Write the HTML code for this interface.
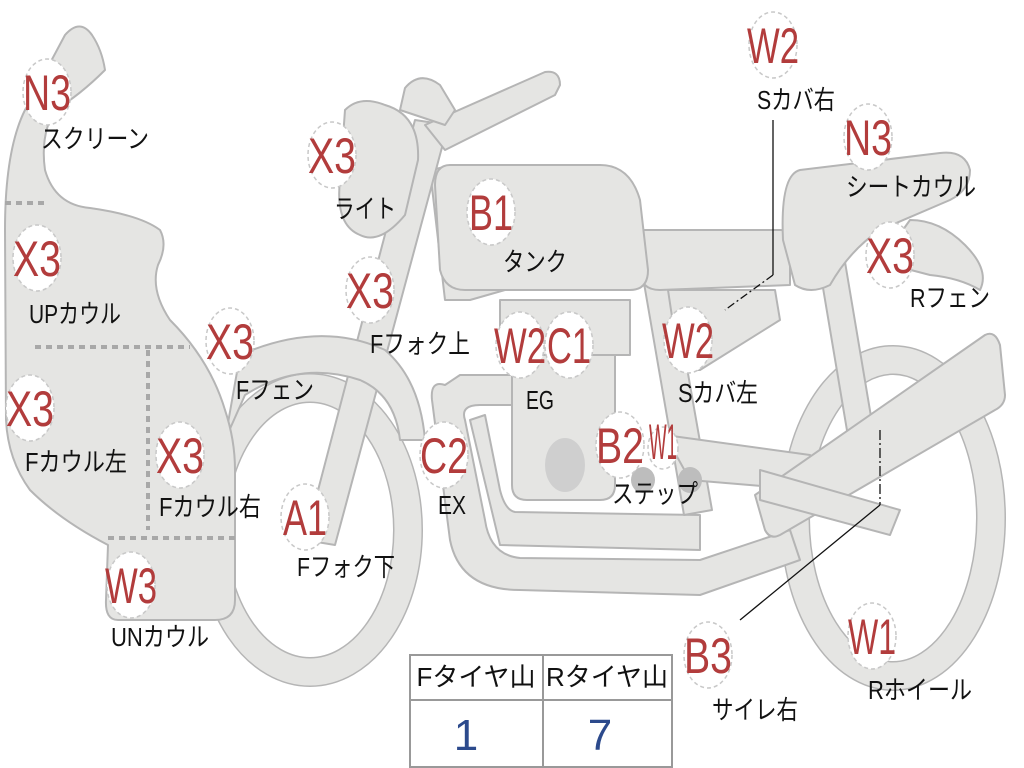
<!DOCTYPE html>
<html><head><meta charset="utf-8"><style>
html,body{margin:0;padding:0;background:#fff;width:1024px;height:768px;overflow:hidden}
svg{display:block}
.s{fill:#e5e5e3;stroke:#b5b5b5;stroke-width:2;stroke-linejoin:round}
.c{fill:#fff;stroke:#c8c8c8;stroke-width:1.5;stroke-dasharray:4 3}
.r{fill:#b23c3c;font-family:"Liberation Sans",sans-serif;font-size:50px;text-anchor:middle}
.k{fill:#111;font-family:"Liberation Sans","Noto Sans CJK JP",sans-serif;font-size:26px;text-anchor:middle}
</style></head><body>
<svg width="1024" height="768" viewBox="0 0 1024 768" xmlns="http://www.w3.org/2000/svg">
<ellipse cx="893" cy="518" rx="98" ry="158" fill="none" stroke="#b5b5b5" stroke-width="30"/>
<ellipse cx="893" cy="518" rx="98" ry="158" fill="none" stroke="#e5e5e3" stroke-width="27"/>
<ellipse cx="310" cy="530" rx="98" ry="142" fill="none" stroke="#b5b5b5" stroke-width="30"/>
<ellipse cx="310" cy="530" rx="98" ry="142" fill="none" stroke="#e5e5e3" stroke-width="27"/>
<path class="s" d="M820,270 L845,262 L880,470 L855,478 Z"/>
<path class="s" d="M445,385 Q430,380 432,400 L450,540 Q460,590 520,590 L700,595 L800,560 L790,530 L700,560 L520,558 Q490,555 485,520 L465,420 Q460,405 480,405 L520,405 L520,375 L460,375 Z"/>
<path class="s" d="M470,420 L500,545 L700,550 L700,515 L515,512 Q505,510 500,490 L485,415 Z"/>
<path class="s" d="M430,170 L455,165 L480,290 L505,290 L470,300 L445,300 Z"/>
<path class="s" d="M640,260 L668,260 L712,510 L684,515 Z"/>
<path class="s" d="M500,300 L630,300 L630,355 L500,355 Z"/>
<path class="s" d="M512,355 L615,355 L615,485 Q615,500 600,500 L527,500 Q512,500 512,485 Z"/>
<ellipse cx="565" cy="465" rx="20" ry="27" fill="#cfcfcf"/>
<path class="s" d="M665,435 L810,455 L810,490 L690,480 Z"/>
<ellipse cx="643" cy="480" rx="12" ry="13" fill="#bdbdbd"/>
<ellipse cx="690" cy="480" rx="12" ry="13" fill="#bdbdbd"/>
<path class="s" d="M755,495 L985,335 Q995,330 1000,345 L1005,395 Q1005,405 995,410 L780,535 Q770,540 765,530 Z"/>
<path class="s" d="M760,470 L900,510 L890,535 L760,500 Z"/>
<path class="s" d="M668,290 L775,290 L780,320 L700,370 L680,370 Z"/>
<path class="s" d="M645,230 L780,230 Q790,230 790,240 L790,285 L660,290 Q640,290 640,270 L640,240 Q640,230 645,230 Z"/>
<path class="s" d="M800,170 L940,153 Q965,150 970,170 Q970,190 950,200 L880,230 Q850,250 830,285 Q810,295 795,285 L783,240 Q780,175 800,170 Z"/>
<path class="s" d="M910,220 Q940,220 965,245 Q990,270 980,290 Q960,278 930,275 L880,262 Z"/>
<path class="s" d="M450,165 L600,165 Q630,165 640,200 L648,270 Q648,290 630,290 L465,290 Q445,290 440,270 L435,185 Q435,165 450,165 Z"/>
<path class="s" d="M415,120 L448,125 L335,545 L305,540 Z"/>
<path class="s" d="M425,125 L545,72 Q560,70 560,85 L555,95 L445,150 Z"/>
<path class="s" d="M400,110 L405,88 Q420,70 440,85 L455,110 L445,125 Z"/>
<path class="s" d="M345,110 Q360,95 385,105 Q420,115 418,160 L405,215 Q380,245 360,235 Q335,225 340,180 Z"/>
<path class="s" d="M240,355 Q320,320 385,350 Q420,380 425,440 L400,440 Q395,395 360,380 Q300,360 245,395 L225,440 Z"/>
<path class="s" d="M25,110 L65,35 Q80,18 92,35 Q102,50 105,70 Q80,95 55,110 Q40,135 45,170 Q55,205 90,208 Q140,215 160,230 Q168,245 158,265 Q150,290 170,320 Q210,360 225,410 Q235,440 235,470 L235,600 Q235,620 215,620 L118,620 Q105,620 106,600 L108,545 Q60,520 30,490 Q8,460 6,420 L5,230 Q5,150 25,110 Z"/>
<g stroke="#a8a8a8" stroke-width="4" stroke-dasharray="6 5" fill="none">
<path d="M5,203 L48,203"/><path d="M35,347 L190,347"/><path d="M148,350 L148,530"/><path d="M108,538 L235,538"/>
</g>
<g stroke="#111" stroke-width="1.3" fill="none">
<path d="M773,120 L773,275"/><path d="M773,275 L725,310" stroke-dasharray="8 3 2 3"/>
<path d="M880,430 L880,505" stroke-dasharray="10 3 2 3"/><path d="M880,505 L740,620"/>
</g>
<g stroke="#999" stroke-width="2" fill="#fff">
<rect x="410" y="655" width="262" height="112"/>
<line x1="410" y1="700" x2="672" y2="700"/><line x1="543" y1="655" x2="543" y2="767"/>
</g>
<text class="k" x="476" y="686">Fタイヤ山</text>
<text class="k" x="607" y="686">Rタイヤ山</text>
<text x="466" y="750" font-family="Liberation Sans,sans-serif" font-size="44" fill="#2c4a8c" text-anchor="middle">1</text>
<text x="600" y="750" font-family="Liberation Sans,sans-serif" font-size="44" fill="#2c4a8c" text-anchor="middle">7</text>
<g>
<ellipse class="c" cx="47" cy="92" rx="24" ry="33"/><text class="r" x="47" y="110" textLength="48" lengthAdjust="spacingAndGlyphs">N3</text>
<ellipse class="c" cx="332" cy="155" rx="24" ry="33"/><text class="r" x="332" y="173" textLength="48" lengthAdjust="spacingAndGlyphs">X3</text>
<ellipse class="c" cx="37" cy="258" rx="24" ry="33"/><text class="r" x="37" y="276" textLength="48" lengthAdjust="spacingAndGlyphs">X3</text>
<ellipse class="c" cx="370" cy="290" rx="24" ry="33"/><text class="r" x="370" y="308" textLength="48" lengthAdjust="spacingAndGlyphs">X3</text>
<ellipse class="c" cx="230" cy="341" rx="24" ry="33"/><text class="r" x="230" y="359" textLength="48" lengthAdjust="spacingAndGlyphs">X3</text>
<ellipse class="c" cx="30" cy="408" rx="24" ry="33"/><text class="r" x="30" y="426" textLength="48" lengthAdjust="spacingAndGlyphs">X3</text>
<ellipse class="c" cx="180" cy="455" rx="24" ry="33"/><text class="r" x="180" y="473" textLength="48" lengthAdjust="spacingAndGlyphs">X3</text>
<ellipse class="c" cx="305" cy="517" rx="24" ry="33"/><text class="r" x="305" y="535" textLength="44" lengthAdjust="spacingAndGlyphs">A1</text>
<ellipse class="c" cx="131" cy="585" rx="24" ry="33"/><text class="r" x="131" y="603" textLength="52" lengthAdjust="spacingAndGlyphs">W3</text>
<ellipse class="c" cx="491" cy="212" rx="24" ry="33"/><text class="r" x="491" y="230" textLength="44" lengthAdjust="spacingAndGlyphs">B1</text>
<ellipse class="c" cx="520" cy="345" rx="24" ry="33"/><text class="r" x="520" y="363" textLength="52" lengthAdjust="spacingAndGlyphs">W2</text>
<ellipse class="c" cx="569" cy="345" rx="24" ry="33"/><text class="r" x="569" y="363" textLength="44" lengthAdjust="spacingAndGlyphs">C1</text>
<ellipse class="c" cx="444" cy="455" rx="24" ry="33"/><text class="r" x="444" y="473" textLength="48" lengthAdjust="spacingAndGlyphs">C2</text>
<ellipse class="c" cx="688" cy="340" rx="24" ry="33"/><text class="r" x="688" y="358" textLength="52" lengthAdjust="spacingAndGlyphs">W2</text>
<ellipse class="c" cx="620" cy="445" rx="24" ry="33"/><text class="r" x="620" y="463" textLength="48" lengthAdjust="spacingAndGlyphs">B2</text>
<ellipse class="c" cx="663" cy="448" rx="15" ry="21"/><text class="r" x="663" y="459" font-size="28" textLength="28" lengthAdjust="spacingAndGlyphs">W1</text>
<ellipse class="c" cx="773" cy="45" rx="24" ry="33"/><text class="r" x="773" y="63" textLength="52" lengthAdjust="spacingAndGlyphs">W2</text>
<ellipse class="c" cx="868" cy="137" rx="24" ry="33"/><text class="r" x="868" y="155" textLength="48" lengthAdjust="spacingAndGlyphs">N3</text>
<ellipse class="c" cx="890" cy="255" rx="24" ry="33"/><text class="r" x="890" y="273" textLength="48" lengthAdjust="spacingAndGlyphs">X3</text>
<ellipse class="c" cx="708" cy="655" rx="24" ry="33"/><text class="r" x="708" y="673" textLength="48" lengthAdjust="spacingAndGlyphs">B3</text>
<ellipse class="c" cx="872" cy="636" rx="24" ry="33"/><text class="r" x="872" y="654" textLength="48" lengthAdjust="spacingAndGlyphs">W1</text>
</g>
<g>
<text class="k" x="95" y="148" textLength="108" lengthAdjust="spacingAndGlyphs">スクリーン</text>
<text class="k" x="365" y="218" textLength="62" lengthAdjust="spacingAndGlyphs">ライト</text>
<text class="k" x="75" y="323" textLength="92" lengthAdjust="spacingAndGlyphs">UPカウル</text>
<text class="k" x="420" y="353" textLength="100" lengthAdjust="spacingAndGlyphs">Fフォク上</text>
<text class="k" x="275" y="399" textLength="78" lengthAdjust="spacingAndGlyphs">Fフェン</text>
<text class="k" x="76" y="471" textLength="102" lengthAdjust="spacingAndGlyphs">Fカウル左</text>
<text class="k" x="210" y="516" textLength="102" lengthAdjust="spacingAndGlyphs">Fカウル右</text>
<text class="k" x="346" y="576" textLength="98" lengthAdjust="spacingAndGlyphs">Fフォク下</text>
<text class="k" x="160" y="646" textLength="98" lengthAdjust="spacingAndGlyphs">UNカウル</text>
<text class="k" x="535" y="271" textLength="64" lengthAdjust="spacingAndGlyphs">タンク</text>
<text class="k" x="540" y="409" textLength="28" lengthAdjust="spacingAndGlyphs">EG</text>
<text class="k" x="452" y="514" textLength="28" lengthAdjust="spacingAndGlyphs">EX</text>
<text class="k" x="718" y="402" textLength="80" lengthAdjust="spacingAndGlyphs">Sカバ左</text>
<text class="k" x="655" y="503" textLength="86" lengthAdjust="spacingAndGlyphs">ステップ</text>
<text class="k" x="796" y="109" textLength="78" lengthAdjust="spacingAndGlyphs">Sカバ右</text>
<text class="k" x="911" y="196" textLength="130" lengthAdjust="spacingAndGlyphs">シートカウル</text>
<text class="k" x="950" y="307" textLength="80" lengthAdjust="spacingAndGlyphs">Rフェン</text>
<text class="k" x="755" y="719" textLength="86" lengthAdjust="spacingAndGlyphs">サイレ右</text>
<text class="k" x="920" y="699" textLength="104" lengthAdjust="spacingAndGlyphs">Rホイール</text>
</g>
</svg>
</body></html>
